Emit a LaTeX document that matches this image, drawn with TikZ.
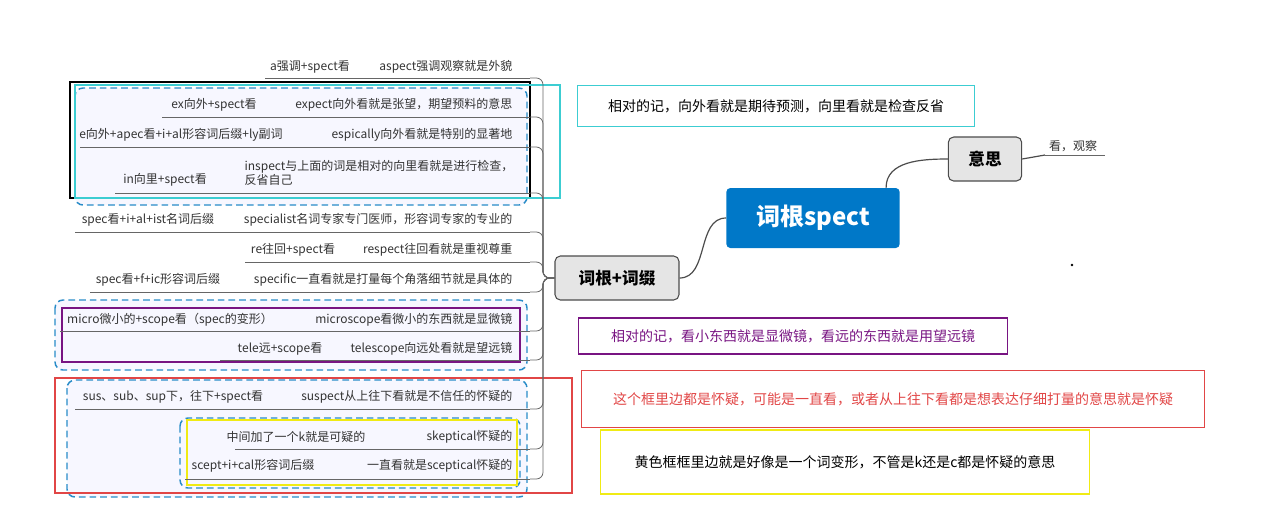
\documentclass[tikz,border=0pt]{standalone}
\usepackage{fontspec}
\setmainfont{Noto Sans CJK SC}
\usetikzlibrary{positioning}
\definecolor{keyblue}{RGB}{0,120,200}
\definecolor{dashblue}{RGB}{40,140,200}
\definecolor{notecyan}{RGB}{60,205,210}
\definecolor{notepurple}{RGB}{120,20,130}
\definecolor{notered}{RGB}{225,70,70}
\definecolor{noteyellow}{RGB}{240,235,20}
\tikzset{
  rowtext/.style={font=\fontsize{9}{10.5}\selectfont, text=black!80, inner sep=1pt},
  rowline/.style={draw=black!60, line width=0.6pt},
  topic/.style={draw=black!70, fill=black!10, rounded corners=4pt, line width=0.8pt, font=\bfseries\fontsize{12.5}{14}\selectfont},
  groupbox/.style={draw=dashblue, dashed, dash pattern=on 5pt off 3pt, line width=1.1pt, rounded corners=6pt, fill=blue!3},
  notebox/.style={line width=1.2pt, font=\fontsize{10.5}{12}\selectfont, inner sep=0pt},
  trunk/.style={draw=black!60, line width=0.6pt, rounded corners=5pt}
}
\begin{document}
\begin{tikzpicture}[x=0.75pt,y=-0.75pt]
\useasboundingbox (0,0) rectangle (1280,526);
% group boxes behind the rows
\draw[groupbox] (75,88) rectangle (527,205);
\draw[groupbox] (55,300) rectangle (527,370);
\draw[groupbox] (67,380) rectangle (527,497);
\draw[groupbox, fill=none] (180,418) rectangle (520,488);
\draw[black, line width=1.8pt] (70,82) rectangle (530,198);
\draw[notecyan, line width=1.3pt] (75,85) rectangle (560,198);
\draw[notepurple, line width=1.6pt] (62,308) rectangle (520,362);
\draw[notered, line width=1.3pt] (55,378) rectangle (572,493);
\draw[noteyellow, line width=1.6pt] (187,420) rectangle (517,485);
% main nodes
\node[fill=keyblue, rounded corners=3pt, text=white, font=\bfseries\fontsize{18}{20}\selectfont, minimum width=130pt, minimum height=45pt] (root) at (813,218) {词根spect};
\node[topic, minimum width=55pt, minimum height=33pt] (mean) at (985,159) {意思};
\node[topic, minimum width=93pt, minimum height=33pt] (hub) at (617,278) {词根+词缀};
\node[rowtext] (look) at (1073,146) {看，观察};
\draw[rowline] (1045,155) -- (1105,155);
\draw[black!70, line width=0.9pt] (root.north west) ++(160,0) to[out=90,in=180] (mean.west);
\draw[black!70, line width=0.9pt] (mean.east) -- (1045,155);
\draw[black!70, line width=0.9pt] (root.west) to[out=180,in=0] (hub.east);
\fill[black] (1072,265) circle (1pt);
% rows: y of text, y of line, start of line, left text, right text, left centre
\foreach \ty/\ly/\lx/\lt/\rt/\lxc [count=\i] in {
  67/78/265/{a强调+spect看}/{aspect强调观察就是外貌}/310,
  105/117/162/{ex向外+spect看}/{expect向外看就是张望，期望预料的意思}/214,
  135/147/80/{e向外+apec看+i+al形容词后缀+ly副词}/{espically向外看就是特别的显著地}/181,
  180/193/115/{in向里+spect看}/{}/165,
  220/232/75/{spec看+i+al+ist名词后缀}/{specialist名词专家专门医师，形容词专家的专业的}/148,
  250/262/245/{re往回+spect看}/{respect往回看就是重视尊重}/293,
  280/292/90/{spec看+f+ic形容词后缀}/{specific一直看就是打量每个角落细节就是具体的}/158,
  320/331/60/{micro微小的+scope看（spec的变形）}/{microscope看微小的东西就是显微镜}/170,
  349/360/220/{tele远+scope看}/{telescope向远处看就是望远镜}/280,
  397/409/75/{sus、sub、sup下，往下+spect看}/{suspect从上往下看就是不信任的怀疑的}/173,
  437/449/235/{中间加了一个k就是可疑的}/{skeptical怀疑的}/296,
  466/479/185/{scept+i+cal形容词后缀}/{一直看就是sceptical怀疑的}/253}{
  \node[rowtext] (left\i) at (\lxc,\ty) {\lt};
  \node[rowtext, anchor=east] (right\i) at (514,\ty) {\rt};
  \coordinate (end\i) at (530,\ly);
  \draw[rowline] (\lx,\ly) -- (end\i);
  \draw[trunk] (hub.west) -- (543,278) |- (end\i);
}
\node[rowtext, align=left, anchor=west] (right4b) at (243,173) {inspect与上面的词是相对的向里看就是进行检查，\\反省自己};
% notes
\node[notebox, draw=notecyan, minimum width=298pt, minimum height=31pt] (note1) at (776,106) {相对的记，向外看就是期待预测，向里看就是检查反省};
\node[notebox, draw=notepurple, text=notepurple, minimum width=322pt, minimum height=27pt] (note2) at (793,336) {相对的记，看小东西就是显微镜，看远的东西就是用望远镜};
\node[notebox, draw=notered, text=notered, minimum width=467pt, minimum height=43pt] (note3) at (893,399) {这个框里边都是怀疑，可能是一直看，或者从上往下看都是想表达仔细打量的意思就是怀疑};
\node[notebox, draw=noteyellow, minimum width=367pt, minimum height=48pt] (note4) at (845,462) {黄色框框里边就是好像是一个词变形，不管是k还是c都是怀疑的意思};
\end{tikzpicture}
\end{document}
